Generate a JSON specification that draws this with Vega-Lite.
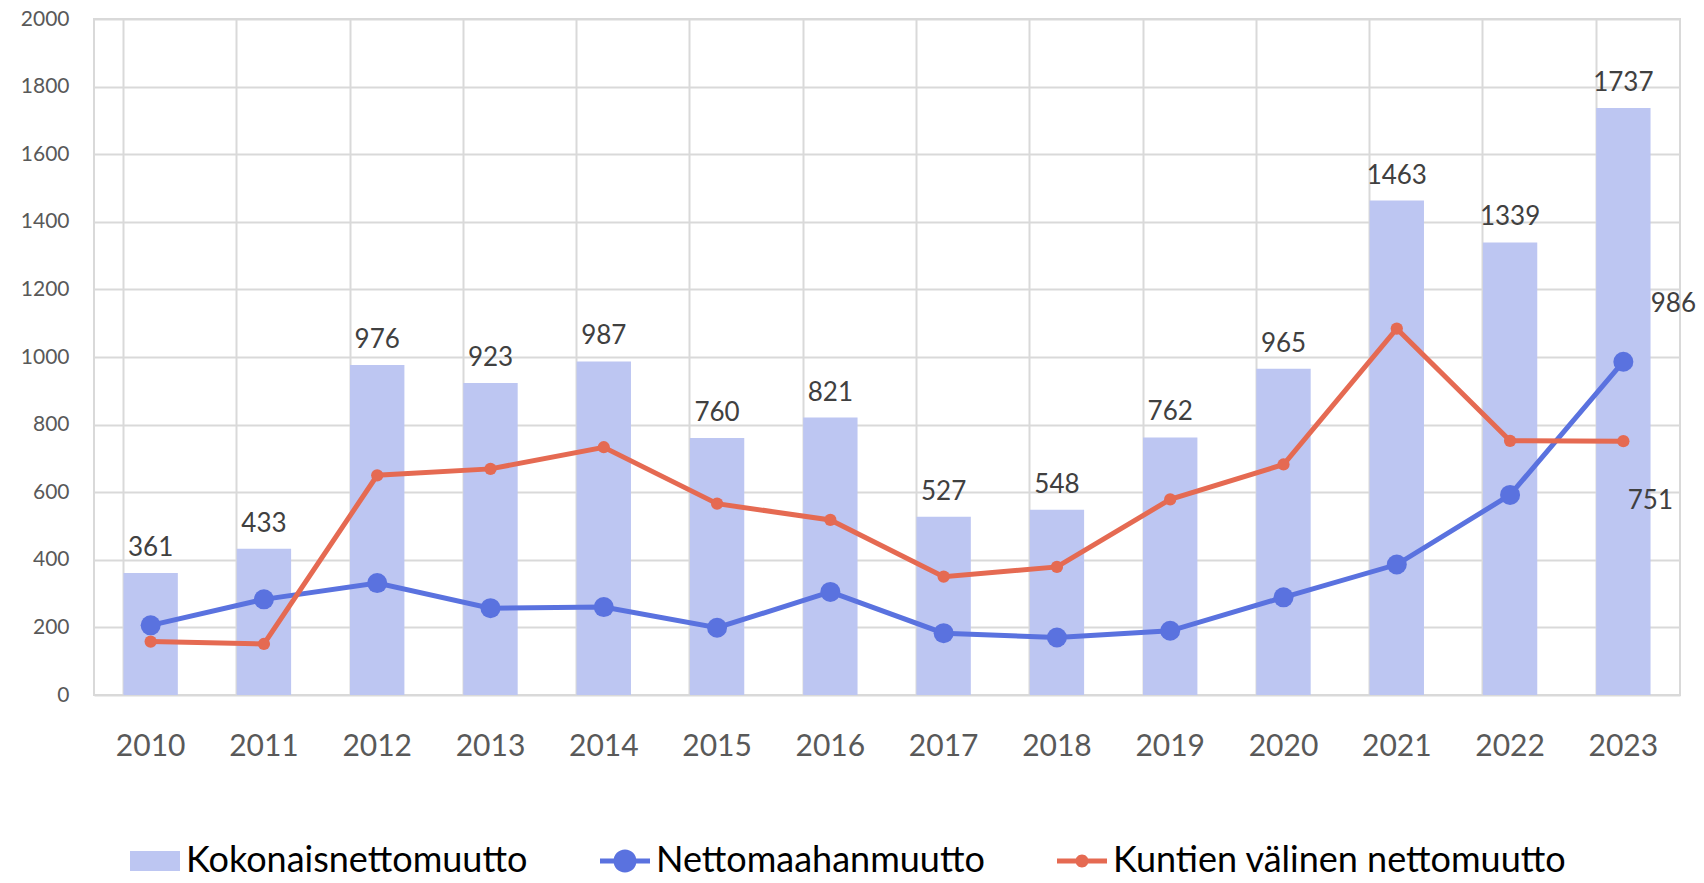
{
  "$schema": "https://vega.github.io/schema/vega-lite/v6.json",
  "autosize": {"type": "none"},
  "width": 1586,
  "height": 676,
  "padding": {"left": 94, "top": 19, "right": 24, "bottom": 188},
  "background": "white",
  "config": {
    "font": "Lato",
    "view": {"stroke": "#D9D9D9", "strokeWidth": 2},
    "axis": {"gridColor": "#D9D9D9", "gridWidth": 2, "domain": false, "ticks": false, "tickSize": 0, "labelColor": "#595959", "title": null}
  },
  "data": {
    "values": [
      {"year": "2010", "kokonais": 361, "netto": 206, "kuntien": 158},
      {"year": "2011", "kokonais": 433, "netto": 283, "kuntien": 151},
      {"year": "2012", "kokonais": 976, "netto": 331, "kuntien": 650},
      {"year": "2013", "kokonais": 923, "netto": 257, "kuntien": 669},
      {"year": "2014", "kokonais": 987, "netto": 260, "kuntien": 733},
      {"year": "2015", "kokonais": 760, "netto": 199, "kuntien": 566},
      {"year": "2016", "kokonais": 821, "netto": 305, "kuntien": 518},
      {"year": "2017", "kokonais": 527, "netto": 183, "kuntien": 350},
      {"year": "2018", "kokonais": 548, "netto": 170, "kuntien": 379},
      {"year": "2019", "kokonais": 762, "netto": 190, "kuntien": 579},
      {"year": "2020", "kokonais": 965, "netto": 289, "kuntien": 682},
      {"year": "2021", "kokonais": 1463, "netto": 386, "kuntien": 1084},
      {"year": "2022", "kokonais": 1339, "netto": 592, "kuntien": 752},
      {"year": "2023", "kokonais": 1737, "netto": 986, "kuntien": 751}
    ]
  },
  "encoding": {
    "x": {
      "field": "year", "type": "nominal",
      "scale": {"paddingInner": 0.52, "paddingOuter": 0.26},
      "axis": {"labelAngle": 0, "labelFontSize": 30, "labelPadding": 36, "grid": true, "bandPosition": 0}
    }
  },
  "layer": [
    {
      "mark": {"type": "bar"},
      "encoding": {
        "y": {"field": "kokonais", "type": "quantitative",
          "scale": {"domain": [0, 2000]},
          "axis": {"values": [0, 200, 400, 600, 800, 1000, 1200, 1400, 1600, 1800, 2000], "format": "d", "labelFontSize": 21, "labelPadding": 25, "grid": true}},
        "color": {"datum": "Kokonaisnettomuutto", "type": "nominal",
          "scale": {"domain": ["Kokonaisnettomuutto", "Nettomaahanmuutto", "Kuntien välinen nettomuutto"], "range": ["#BDC6F2", "#5A72DF", "#E56A52"]},
          "legend": {
            "orient": "bottom", "direction": "horizontal", "title": null, "offset": 39, "padding": 36,
            "labelFontSize": 36, "labelColor": "#000000", "labelLimit": 800, "labelOffset": 6,
            "columnPadding": 72, "symbolSize": 2500,
            "encode": {
              "symbols": {"update": {
                "shape": {"signal": "datum.value == 'Kokonaisnettomuutto' ? 'M-1,-0.4H1V0.4H-1Z' : datum.value == 'Nettomaahanmuutto' ? 'M-1,-0.1H1V0.1H-1Z M-0.46,0A0.46,0.46 0 1,1 0.46,0A0.46,0.46 0 1,1 -0.46,0Z' : 'M-1,-0.1H1V0.1H-1Z M-0.26,0A0.26,0.26 0 1,1 0.26,0A0.26,0.26 0 1,1 -0.26,0Z'"},
                "fill": {"signal": "scale('color', datum.value)"},
                "stroke": {"value": "transparent"},
                "strokeWidth": {"value": 0},
                "opacity": {"value": 1}
              }}
            }
          }}
      }
    },
    {
      "mark": {"type": "text", "baseline": "alphabetic", "dy": -17, "fontSize": 26, "color": "#404040"},
      "encoding": {
        "y": {"field": "kokonais", "type": "quantitative"},
        "text": {"field": "kokonais", "type": "quantitative"}
      }
    },
    {
      "mark": {"type": "line", "strokeWidth": 5, "point": {"filled": true, "size": 400, "opacity": 1}},
      "encoding": {
        "y": {"field": "netto", "type": "quantitative"},
        "color": {"datum": "Nettomaahanmuutto", "type": "nominal"}
      }
    },
    {
      "mark": {"type": "line", "strokeWidth": 5, "point": {"filled": true, "size": 150, "opacity": 1}},
      "encoding": {
        "y": {"field": "kuntien", "type": "quantitative"},
        "color": {"datum": "Kuntien välinen nettomuutto", "type": "nominal"}
      }
    },
    {
      "transform": [{"filter": "datum.year == '2023'"}],
      "mark": {"type": "text", "baseline": "middle", "dx": 50, "dy": -58, "fontSize": 26, "color": "#404040"},
      "encoding": {
        "y": {"field": "netto", "type": "quantitative"},
        "text": {"field": "netto", "type": "quantitative"}
      }
    },
    {
      "transform": [{"filter": "datum.year == '2023'"}],
      "mark": {"type": "text", "baseline": "middle", "dx": 27, "dy": 60, "fontSize": 26, "color": "#404040"},
      "encoding": {
        "y": {"field": "kuntien", "type": "quantitative"},
        "text": {"field": "kuntien", "type": "quantitative"}
      }
    }
  ]
}
